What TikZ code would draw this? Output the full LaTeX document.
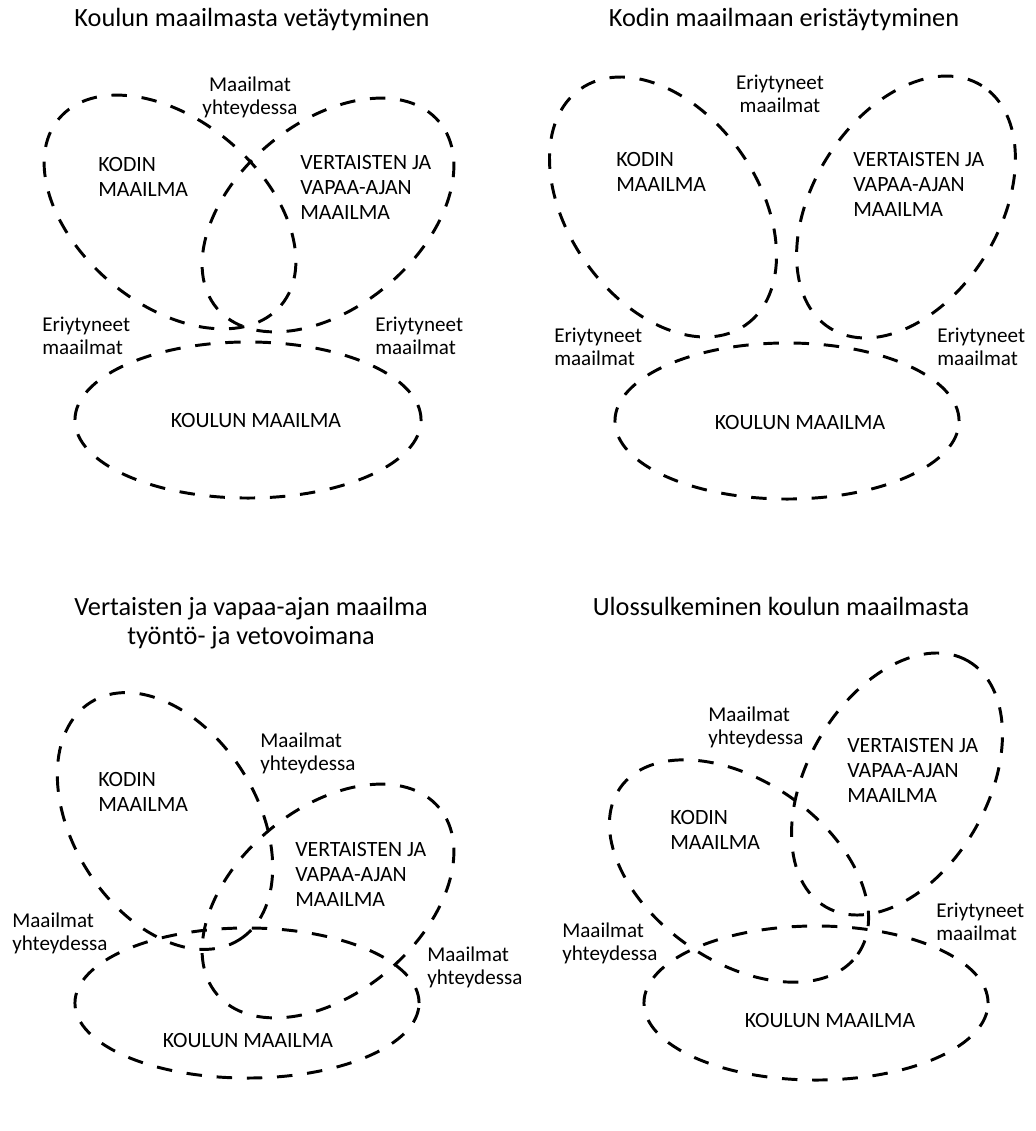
\documentclass[tikz,border=0pt]{standalone}
\usepackage{fontspec}
\setmainfont{Carlito}
\usetikzlibrary{shapes.geometric}

\begin{document}
\begin{tikzpicture}[x=0.025cm, y=-0.025cm,
    world/.style n args={3}{ellipse, draw, line width=2.1pt, dash pattern=on 11pt off 10.5pt,
      inner sep=0pt, minimum width=#1*0.05cm, minimum height=#2*0.05cm, rotate=#3},
    heading/.style={align=center, anchor=north, inner sep=0pt, font=\fontsize{18.7}{20.6}\selectfont},
    caps/.style={align=left, anchor=north west, inner sep=0pt, font=\fontsize{15.5}{17.7}\selectfont},
    remark/.style={align=left, anchor=north west, inner sep=0pt, font=\fontsize{15}{16.3}\selectfont}]
    \useasboundingbox (0,0) rectangle (1036,1131);

    \node[heading] (t1) at (252,8) {Koulun maailmasta vetäytyminen};
    \node[world={145}{92}{-40}] (kodin1) at (170,212) {};
    \node[world={145}{92}{40}] (vapaa1) at (328,215) {};
    \node[world={173}{78}{0}] (koulu1) at (248,420) {};
    \node[remark, anchor=north, align=center] (m1) at (250,77) {Maailmat\\yhteydessa};
    \node[caps] (k1) at (98,157) {KODIN\\MAAILMA};
    \node[caps] (v1) at (300,155) {VERTAISTEN JA\\VAPAA-AJAN\\MAAILMA};
    \node[remark] (e1) at (42,317) {Eriytyneet\\maailmat};
    \node[remark] (e2) at (375,317) {Eriytyneet\\maailmat};
    \node[caps, anchor=north] (s1) at (256,413) {KOULUN MAAILMA};

    \node[heading] (t2) at (784,8) {Kodin maailmaan eristäytyminen};
    \node[world={144}{95}{-55}] (kodin2) at (663,207) {};
    \node[world={143}{93}{58}] (vapaa2) at (906,207) {};
    \node[world={172}{78}{0}] (koulu2) at (787,421) {};
    \node[remark, anchor=north, align=center] (e3) at (780,75) {Eriytyneet\\maailmat};
    \node[caps] (k2) at (616,152) {KODIN\\MAAILMA};
    \node[caps] (v2) at (853,152) {VERTAISTEN JA\\VAPAA-AJAN\\MAAILMA};
    \node[remark] (e4) at (554,328) {Eriytyneet\\maailmat};
    \node[remark] (e5) at (937,328) {Eriytyneet\\maailmat};
    \node[caps, anchor=north] (s2) at (800,415) {KOULUN MAAILMA};

    \node[heading] (t3) at (251,597) {Vertaisten ja vapaa-ajan maailma\\työntö- ja vetovoimana};
    \node[world={140}{92}{-58}] (kodin3) at (165,821) {};
    \node[world={145}{92}{40}] (vapaa3) at (328,901) {};
    \node[world={172}{75}{0}] (koulu3) at (247,1003) {};
    \node[remark] (m2) at (260,733) {Maailmat\\yhteydessa};
    \node[caps] (k3) at (98,772) {KODIN\\MAAILMA};
    \node[caps] (v3) at (295,842) {VERTAISTEN JA\\VAPAA-AJAN\\MAAILMA};
    \node[remark] (m3) at (12,913) {Maailmat\\yhteydessa};
    \node[remark] (m4) at (427,947) {Maailmat\\yhteydessa};
    \node[caps, anchor=north] (s3) at (248,1033) {KOULUN MAAILMA};

    \node[heading] (t4) at (781,597) {Ulossulkeminen koulun maailmasta};
    \node[world={142}{90}{60}] (vapaa4) at (897,784) {};
    \node[world={145}{90}{-35}] (kodin4) at (739,871) {};
    \node[world={172}{77}{0}] (koulu4) at (816,1003) {};
    \node[remark] (m5) at (708,707) {Maailmat\\yhteydessa};
    \node[caps] (v4) at (847,738) {VERTAISTEN JA\\VAPAA-AJAN\\MAAILMA};
    \node[caps] (k4) at (670,810) {KODIN\\MAAILMA};
    \node[remark] (e6) at (936,903) {Eriytyneet\\maailmat};
    \node[remark] (m6) at (562,923) {Maailmat\\yhteydessa};
    \node[caps, anchor=north] (s4) at (830,1013) {KOULUN MAAILMA};
\end{tikzpicture}
\end{document}
